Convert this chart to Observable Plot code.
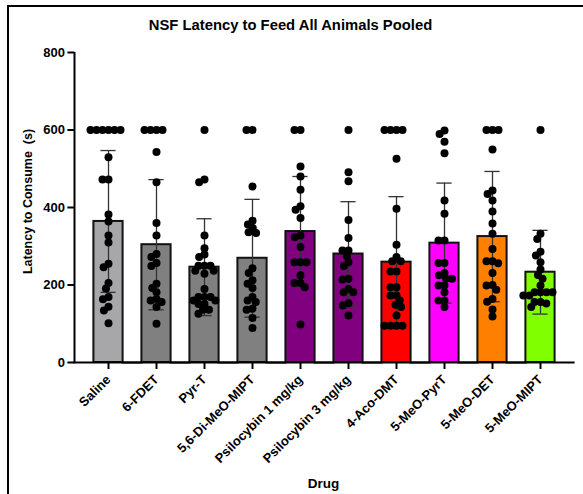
<!DOCTYPE html>
<html><head><meta charset="utf-8">
<script src="https://cdn.jsdelivr.net/npm/d3@7"></script>
<script src="https://cdn.jsdelivr.net/npm/@observablehq/plot@0.6"></script>
<style>
body{margin:0;background:#fff;font-family:"Liberation Sans",Arial,sans-serif;}
#wrap{position:relative;width:583px;height:494px;overflow:hidden;}
#border{position:absolute;left:7px;top:5px;width:600px;height:600px;border-top:2.5px solid #000;border-left:2.5px solid #000;}
#title{position:absolute;top:17px;left:0;width:581px;text-align:center;font-weight:bold;font-size:14.8px;color:#000;}
#xlabel{position:absolute;top:476px;left:273.5px;width:100px;text-align:center;font-weight:bold;font-size:13.5px;color:#000;}
#chart{position:absolute;left:0;top:0;}
</style></head><body>
<div id="wrap"><div id="border"></div><div id="title">NSF Latency to Feed All Animals Pooled</div><div id="chart"></div><div id="xlabel">Drug</div></div>
<script>
const drugs = ["Saline","6-FDET","Pyr-T","5,6-Di-MeO-MIPT","Psilocybin 1 mg/kg","Psilocybin 3 mg/kg","4-Aco-DMT","5-MeO-PyrT","5-MeO-DET","5-MeO-MIPT"];
const barColors = ["#a7a7a9","#808080","#808080","#808080","#800080","#800080","#ff0000","#ff00ff","#ff8000","#80ff00"];
const means = [364,304,246,269,338,280,259,308,325,233];
const sds = [183,168,125,152,142,135,169,155,168,108];
const yTicks = [0,200,400,600,800];

const saline = [600,600,600,600,600,600,530,472,472,382,364,328,310,255,246,205,191,169,163,144,134,101];
const fdet = [600,600,600,600,543,465,360,328,280,272,257,249,203,192,181,164,160,156,143,100];
const pyrT = [600,472,465,328,295,279,272,250,250,250,237,237,229,190,169,169,169,160,160,151,151,136,136,126];
const diMeoMipt = [600,600,454,366,356,347,336,334,243,231,212,203,192,169,160,156,139,136,115,89];
const psilo1 = [600,600,506,480,446,403,394,373,328,323,298,259,259,259,225,205,205,194,98];
const psilo3 = [600,491,468,368,321,289,289,274,259,249,216,214,190,181,181,153,147,121];
const acoDmt = [600,600,600,600,526,397,304,272,261,261,235,235,194,194,173,173,160,149,143,121,95,95,95,95];
const meoPyrT = [599,590,570,540,418,384,315,315,257,257,231,225,216,216,199,199,181,160,160,143];
const meoDet = [600,600,600,550,444,435,418,390,359,332,293,261,261,256,231,200,199,188,164,157,137,119];
const meoMipt = [600,332,319,286,276,259,240,226,216,199,181,181,181,181,173,173,156,156,152,143];

const groups = [saline,fdet,pyrT,diMeoMipt,psilo1,psilo3,acoDmt,meoPyrT,meoDet,meoMipt];
const stats = drugs.map((d,i)=>({drug:d, mean:means[i], sd:sds[i], color:barColors[i]}));
const points = groups.flatMap((g,i)=>g.map(v=>({drug:drugs[i], value:v})));

const font = "Liberation Sans, Arial, sans-serif";
const edge = 9.6;   // gap between axis and first facet
const barInset = 9.4;
const chart = Plot.plot({
  width: 583, height: 494,
  marginTop: 52, marginBottom: 132, marginLeft: 70, marginRight: 6,
  style: {background: "transparent", fontFamily: font, color: "#000"},
  fx: {domain: drugs, paddingInner: 0, paddingOuter: 0.197, label: null},
  x: {axis: null},
  y: {domain: [0, 800]},
  color: {type: "identity"},
  marks: [
    Plot.barY(stats, {fx: "drug", y: "mean", fill: "color", stroke: "#111", strokeWidth: 2, insetLeft: barInset, insetRight: barInset}),
    Plot.ruleX(stats, {fx: "drug", x: null, y1: d => d.mean - d.sd, y2: d => d.mean + d.sd, stroke: "#333", strokeWidth: 1.3}),
    Plot.tickY(stats, {fx: "drug", y: d => d.mean + d.sd, insetLeft: barInset + 7, insetRight: barInset + 7, stroke: "#333", strokeWidth: 1.3}),
    Plot.tickY(stats, {fx: "drug", y: d => d.mean - d.sd, insetLeft: barInset + 7, insetRight: barInset + 7, stroke: "#333", strokeWidth: 1.3}),
    Plot.dot(points, Plot.dodgeX({anchor: "middle", padding: -2}, {fx: "drug", y: "value", r: 4, fill: "#000", stroke: null})),
    Plot.ruleY([0], {stroke: "#000", strokeWidth: 2, insetLeft: -edge - 1, insetRight: -edge - 1}),
    Plot.ruleX([0], {x: null, y1: 0, y2: 800, facetAnchor: "left", dx: -(24.4 + edge), stroke: "#000", strokeWidth: 2}),
    Plot.axisY({ticks: yTicks, dx: -edge, tickSize: 7, tickPadding: 3, fontSize: 13, fontWeight: "bold", strokeWidth: 2, label: null}),
    Plot.text(["Latency to Consume  (s)"], {facetAnchor: "left", frameAnchor: "left", textAnchor: "middle", rotate: -90, dx: -47 - edge, dy: -6, fontSize: 12.5, fontWeight: "bold"}),
    Plot.axisFx({anchor: "bottom", tickRotate: -45, tickSize: 7, tickPadding: 8, fontSize: 13, fontWeight: "bold", strokeWidth: 2, label: null})
  ]
});
document.getElementById("chart").appendChild(chart);
</script>
</body></html>
